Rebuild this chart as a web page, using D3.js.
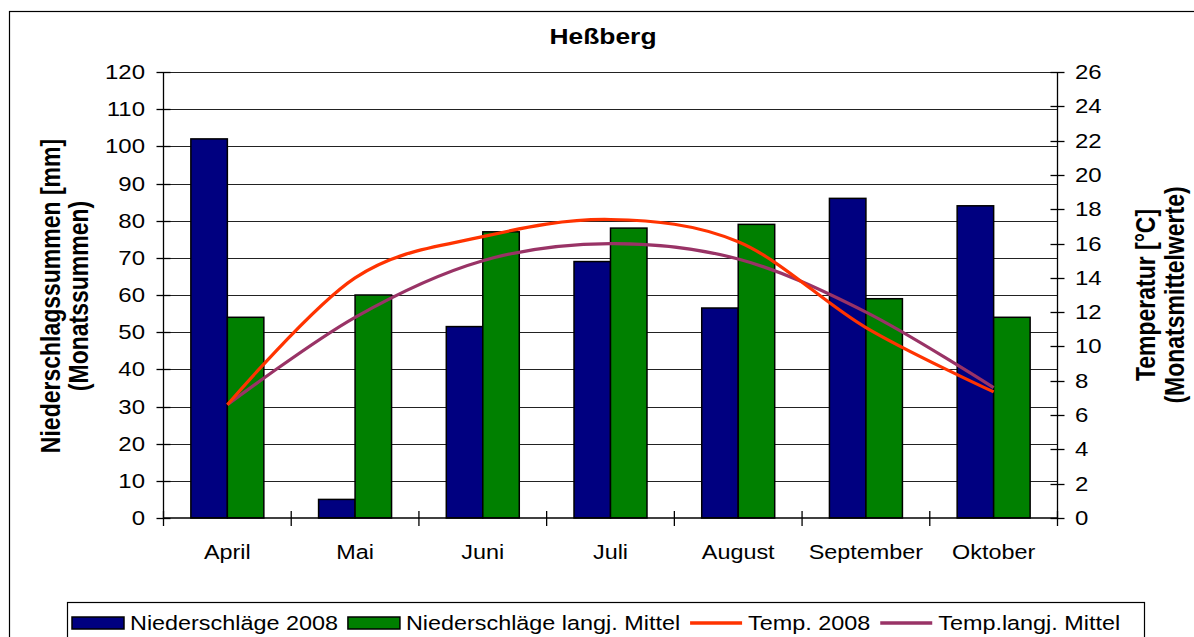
<!DOCTYPE html>
<html><head><meta charset="utf-8">
<script src="https://cdn.jsdelivr.net/npm/d3@7"></script>
<style>
body{margin:0;background:#fff}
text{font-family:"Liberation Sans",Arial,sans-serif;fill:#000}
</style>
</head><body>
<svg id="c" width="1194" height="637"></svg>
<script>
const categories = ["April","Mai","Juni","Juli","August","September","Oktober"];
const precip2008 = [102, 5, 51.5, 69, 56.5, 86, 84];
const precipMean = [54, 60, 77, 78, 79, 59, 54];
const temp2008 = [6.6, 14.0, 16.4, 17.4, 16.1, 11.1, 7.35];
const tempMean = [6.6, 11.7, 15.0, 16.0, 15.1, 12.0, 7.6];
const leftTicks = d3.range(0, 121, 10);
const rightTicks = d3.range(0, 27, 2);
const seriesNames = ["Niederschläge 2008", "Niederschläge langj. Mittel", "Temp. 2008", "Temp.langj. Mittel"];
const seriesColors = ["#000080", "#008000", "#FF3300", "#993366"];
const chartTitle = "Heßberg";
const leftTitle = ["Niederschlagssummen [mm]", "(Monatssummen)"];
const rightTitle = ["Temperatur [°C]", "(Monatsmittelwerte)"];

const SX = 1.2;
const svg = d3.select("#c");
const L = 163.5, R = 1057.5, T = 72, B = 518;

const x = d3.scaleBand().domain(categories).range([L, R]).paddingInner(0).paddingOuter(0);
const yL = d3.scaleLinear().domain([0, 120]).range([B, T]);
const yR = d3.scaleLinear().domain([0, 26]).range([B, T]);
const barW = x.bandwidth() / 3.5;
const cx = c => x(c) + x.bandwidth() / 2;
const px = v => Math.round(v) + 0.5;

// outer border
svg.append("rect").attr("x", 9.5).attr("y", 11.5).attr("width", 1300).attr("height", 700)
  .attr("fill", "#fff").attr("stroke", "#000").attr("stroke-width", 1.2);

function stext(g, str, xx, yy, size, anchor, bold, rot) {
  const t = g.append("text")
    .attr("transform", `translate(${xx},${yy}) scale(${SX},1)` + (rot ? " rotate(-90)" : ""))
    .attr("font-size", size).attr("text-anchor", anchor)
    .attr("font-weight", bold ? "bold" : "normal").text(str);
  return t;
}

// gridlines
svg.append("g").selectAll("line").data(leftTicks.filter(d => d > 0)).join("line")
  .attr("x1", L).attr("x2", R).attr("y1", d => px(yL(d))).attr("y2", d => px(yL(d)))
  .attr("stroke", "#222").attr("stroke-width", 1);

// bars
const bars = svg.append("g");
bars.selectAll("rect.a").data(categories).join("rect").attr("class", "a")
  .attr("x", d => cx(d) - barW).attr("width", barW)
  .attr("y", (d, i) => yL(precip2008[i])).attr("height", (d, i) => B - yL(precip2008[i]))
  .attr("fill", seriesColors[0]).attr("stroke", "#000").attr("stroke-width", 1.5);
bars.selectAll("rect.b").data(categories).join("rect").attr("class", "b")
  .attr("x", d => cx(d)).attr("width", barW)
  .attr("y", (d, i) => yL(precipMean[i])).attr("height", (d, i) => B - yL(precipMean[i]))
  .attr("fill", seriesColors[1]).attr("stroke", "#000").attr("stroke-width", 1.5);

// axes lines
const ax = svg.append("g").attr("stroke", "#000").attr("stroke-width", 1.3);
ax.append("line").attr("x1", L).attr("x2", L).attr("y1", T).attr("y2", B);
ax.append("line").attr("x1", R).attr("x2", R).attr("y1", T).attr("y2", B);
ax.append("line").attr("x1", L).attr("x2", R).attr("y1", B).attr("y2", B);
ax.selectAll("line.lt").data(leftTicks).join("line").attr("class", "lt")
  .attr("x1", L - 7).attr("x2", L + 7).attr("y1", d => px(yL(d))).attr("y2", d => px(yL(d)));
ax.selectAll("line.rt").data(rightTicks).join("line").attr("class", "rt")
  .attr("x1", R - 7).attr("x2", R + 7).attr("y1", d => px(yR(d))).attr("y2", d => px(yR(d)));
const bounds = categories.map(c => x(c)).concat([R]);
ax.selectAll("line.xt").data(bounds).join("line").attr("class", "xt")
  .attr("x1", d => d).attr("x2", d => d).attr("y1", B - 7).attr("y2", B + 8);

// lines
const line = d3.line().curve(d3.curveCatmullRom.alpha(0));
const lg = svg.append("g").attr("fill", "none").attr("stroke-width", 3.2).attr("stroke-linejoin", "round");
lg.append("path").attr("d", line(categories.map((c, i) => [cx(c), yR(tempMean[i])]))).attr("stroke", seriesColors[3]);
lg.append("path").attr("d", line(categories.map((c, i) => [cx(c), yR(temp2008[i])]))).attr("stroke", seriesColors[2]);

// tick labels
const tl = svg.append("g");
leftTicks.forEach(d => stext(tl, d, 145, yL(d) + 7, 20, "end", false));
rightTicks.forEach(d => stext(tl, d, 1075, yR(d) + 7, 20, "start", false));
categories.forEach(c => stext(tl, c, cx(c), 559, 19.5, "middle", false));

// titles
stext(svg, chartTitle, 603, 44, 22, "middle", true);
stext(svg, leftTitle[0], 60, 296, 23, "middle", true, true);
stext(svg, leftTitle[1], 88, 296, 23, "middle", true, true);
stext(svg, rightTitle[0], 1155, 295, 23, "middle", true, true);
stext(svg, rightTitle[1], 1184, 295, 23, "middle", true, true);

// legend
const leg = svg.append("g");
leg.append("rect").attr("x", 67.5).attr("y", 602.5).attr("width", 1077).attr("height", 50)
  .attr("fill", "#fff").attr("stroke", "#000").attr("stroke-width", 1.2);
let lx = 72;
seriesNames.forEach((name, i) => {
  if (i < 2) {
    leg.append("rect").attr("x", lx).attr("y", 617).attr("width", 52).attr("height", 12)
      .attr("fill", seriesColors[i]).attr("stroke", "#000").attr("stroke-width", 1.5);
  } else {
    leg.append("line").attr("x1", lx).attr("x2", lx + 52).attr("y1", 623).attr("y2", 623)
      .attr("stroke", seriesColors[i]).attr("stroke-width", 3.5);
  }
  const t = stext(leg, name, lx + 58, 630, 19.5, "start", false);
  const w = t.node().getComputedTextLength() * SX;
  lx += 58 + w + 10;
});
</script>
</body></html>
